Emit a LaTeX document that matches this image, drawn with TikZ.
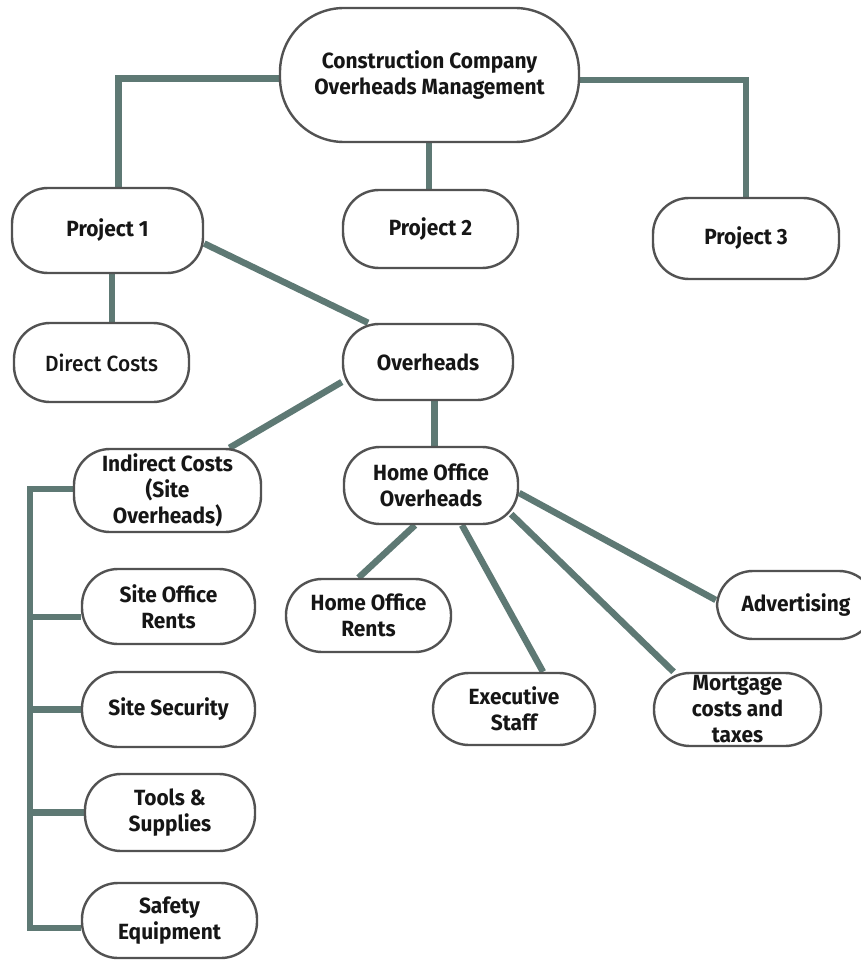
\documentclass[tikz,border=0pt]{standalone}
\usepackage{fontspec}
\setmainfont{Fira Sans}[FakeStretch=0.95]
\newfontfamily\medfont{Fira Sans Medium}[FakeStretch=0.95]
\usetikzlibrary{backgrounds}
\definecolor{linkc}{RGB}{94,121,116}
\definecolor{rimc}{RGB}{82,82,82}
\definecolor{inkc}{RGB}{22,22,22}
\tikzset{
  pill/.style={draw=rimc, line width=2.4pt, fill=white, rounded corners=36pt,
    align=center, font=\fontsize{22}{26}\selectfont\bfseries, text=inkc,
    inner sep=0pt, minimum width=#1},
  pill/.default=170pt,
  link/.style={draw=linkc, line width=6.5pt}
}
\begin{document}
\begin{tikzpicture}[x=1pt, y=-1pt]
\useasboundingbox (0,0) rectangle (860,960);

% root and projects
\node[pill=299pt, minimum height=134pt, rounded corners=64pt] (top) at (429.5,75)
  {Construction Company\\Overheads Management};
\node[pill=191pt, minimum height=85pt] (p1) at (107.5,230.5) {Project 1};
\node[pill=175pt, minimum height=78pt] (p2) at (430.5,229) {Project 2};
\node[pill=186pt, minimum height=81pt] (p3) at (746,238.5) {Project 3};

% cost split of project 1
\node[pill=175pt, minimum height=79pt, font=\fontsize{22}{26}\selectfont\medfont] (dc) at (101.5,362.5) {Direct Costs};
\node[pill=170pt, minimum height=76pt] (ov) at (428,362) {Overheads};
\node[pill=187pt, minimum height=83pt] (ind) at (167.5,490.5) {Indirect Costs\\(Site\\Overheads)};
\node[pill=174pt, minimum height=77pt] (hoo) at (431,485.5) {Home Office\\Overheads};

% site overheads
\node[pill=173pt, minimum height=75pt] (sor) at (168.5,606.5) {Site Office\\Rents};
\node[pill=173pt, minimum height=75pt] (ss) at (168.5,709.5) {Site Security};
\node[pill=170pt, minimum height=77pt] (tools) at (170,812.5) {Tools \&\\Supplies};
\node[pill=175pt, minimum height=75pt] (safety) at (169.5,920.5) {Safety\\Equipment};

% home office overheads
\node[pill=165pt, minimum height=73pt] (hor) at (368.5,615.5) {Home Office\\Rents};
\node[pill=162pt, minimum height=72pt] (ex) at (514,709) {Executive\\Staff};
\node[pill=167pt, minimum height=73pt] (mort) at (737.5,709.5) {Mortgage\\costs and\\taxes};
\node[pill=158pt, minimum height=68pt] (adv) at (796,605) {Advertising};

\begin{scope}[on background layer]
  \fill[white] (0,0) rectangle (860,960);

  \draw[link] ([yshift=-3.5]top.west) -| ([xshift=11]p1.north);
  \draw[link] ([yshift=-5]top.east) -| (p3.north);
  \draw[link] ([xshift=-0.5]top.south) -- ([xshift=-0.5]top.south |- p2.north);

  \draw[link] ([xshift=4.5]p1.south) -- ([xshift=4.5]p1.south |- dc.north);
  \draw[link] ([yshift=-13]p1.east) -- ([xshift=-60]ov.north);

  \draw[link] ([yshift=-20]ov.west) -- ([xshift=62]ind.north);
  \draw[link] ([xshift=6.5]ov.south) -- ([xshift=6.5]ov.south |- hoo.north);

  \draw[link] ([xshift=-16]hoo.south) -- ([xshift=-10]hor.north);
  \draw[link] ([xshift=31]hoo.south) -- ([xshift=29]ex.north);
  \draw[link] ([xshift=-8,yshift=11]hoo.south east) -- ([xshift=-64]mort.north);
  \draw[link] ([yshift=-7.5]hoo.east) -- ([yshift=5]adv.west);

  % bus along the site overheads
  \coordinate (bus) at (30,489.5);
  \coordinate (indin) at ([yshift=1.5]ind.west);
  \coordinate (sorin) at ([yshift=-10.5]sor.west);
  \coordinate (sfin) at ([yshift=-7.5]safety.west);
  \draw[link] (indin) -| (bus |- sfin) -- (sfin);
  \draw[link] (bus |- sorin) -- (sorin);
  \draw[link] (bus |- ss.west) -- (ss.west);
  \draw[link] (bus |- tools.west) -- (tools.west);
\end{scope}
\end{tikzpicture}
\end{document}
